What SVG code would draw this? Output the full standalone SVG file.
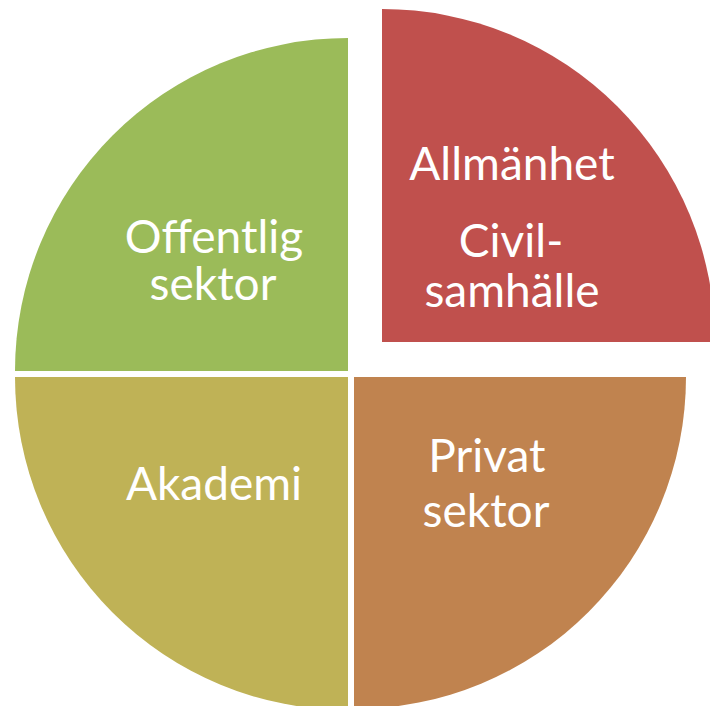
<svg xmlns="http://www.w3.org/2000/svg" width="710" height="706" viewBox="0 0 710 706">
<style>
.lbl{font-family:Lato,"Open Sans","Liberation Sans",sans-serif;font-size:46px;fill:#ffffff;text-anchor:middle}
</style>
<rect width="710" height="706" fill="#ffffff"/>
<g id="offentlig">
<path d="M348,371 L15,371 A333,333 0 0 1 348,38 Z" fill="#9BBB59"/>
<text class="lbl" x="214" y="253">Offentlig</text>
<text class="lbl" x="213" y="300">sektor</text>
</g>
<g id="allmanhet">
<path d="M382,342 L382,9 A333,333 0 0 1 715,342 Z" fill="#C0504D"/>
<text class="lbl" x="512" y="180">Allmänhet</text>
<text class="lbl" x="511" y="257">Civil-</text>
<text class="lbl" x="512" y="307">samhälle</text>
</g>
<g id="akademi">
<path d="M348,377 L348,710 A333,333 0 0 1 15,377 Z" fill="#BFB256"/>
<text class="lbl" x="214" y="500">Akademi</text>
</g>
<g id="privat">
<path d="M354,377 L686,377 A332,332 0 0 1 354,709 Z" fill="#C0834F"/>
<text class="lbl" x="487" y="472">Privat</text>
<text class="lbl" x="486" y="527">sektor</text>
</g>
<g id="connectors"></g>
</svg>
